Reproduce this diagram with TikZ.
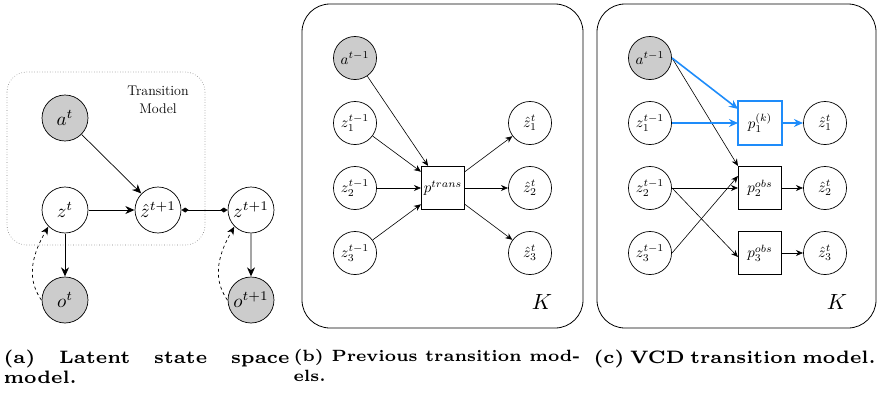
\documentclass[tikz,border=0pt]{standalone}
\usetikzlibrary{arrows.meta}
\definecolor{vcdblue}{RGB}{30,140,250}
\begin{document}
\begin{tikzpicture}[x=1pt,y=-1pt,
  varA/.style={circle,draw,line width=0.7pt,scale=1.9,minimum size=24.2pt,inner sep=0pt,font=\fontsize{10}{10}\selectfont},
  obsA/.style={varA,fill=gray!40},
  varB/.style={circle,draw,line width=0.7pt,scale=1.5,minimum size=28.7pt,inner sep=0pt,font=\fontsize{10}{10}\selectfont},
  obsB/.style={varB,fill=gray!40},
  boxB/.style={draw,line width=0.7pt,scale=1.5,minimum size=28.7pt,inner sep=0pt,font=\fontsize{10}{10}\selectfont},
  arrA/.style={-{Stealth[length=9pt,width=8pt]},line width=0.7pt},
  arrB/.style={-{Stealth[length=7pt,width=6pt]},line width=0.6pt},
  arrBlue/.style={-{Stealth[length=9pt,width=8pt]},line width=1.6pt,draw=vcdblue},
  panel/.style={draw,line width=0.8pt,rounded corners=28pt},
  bigK/.style={scale=2.2,font=\fontsize{10}{10}\selectfont},
  captext/.style={anchor=north west,inner sep=0pt,font=\fontsize{6}{6.67}\selectfont\bfseries}
]
\useasboundingbox (0,0) rectangle (877,392);

% ---------- panel (a) ----------
\draw[dotted,gray,line width=0.6pt,rounded corners=20pt] (7,72) rectangle (205,245);
\node[align=center,font=\fontsize{14}{18}\selectfont] (tm) at (158,100) {Transition\\Model};
\node[obsA] (at) at (65,118) {$a^t$};
\node[varA] (zt) at (65,210) {$z^t$};
\node[varA] (zh) at (158,210) {$\hat z^{t+1}$};
\node[varA] (zn) at (251,210) {$z^{t+1}$};
\node[obsA] (ot) at (65,300) {$o^t$};
\node[obsA] (on) at (251,300) {$o^{t+1}$};
\draw[arrA] (at) -- (zh);
\draw[arrA] (zt) -- (zh);
\draw[arrA] (zt) -- (ot);
\draw[arrA] (zn) -- (on);
\draw[{Diamond[length=7pt,width=5pt]}-{Diamond[length=7pt,width=5pt]},line width=0.7pt] (zh) -- (zn);
\draw[dashed,line width=0.7pt,-{Stealth[length=8pt,width=7pt]}] (ot.west) to[out=125,in=240] (zt.south west);
\draw[dashed,line width=0.7pt,-{Stealth[length=8pt,width=7pt]}] (on.west) to[out=125,in=240] (zn.south west);

% ---------- panel (b) ----------
\draw[panel] (302,4) rectangle (583,328);
\node[obsB] (ab) at (355,58) {$a^{t-1}$};
\node[varB] (z1b) at (355,123) {$z_1^{t-1}$};
\node[varB] (z2b) at (355,188) {$z_2^{t-1}$};
\node[varB] (z3b) at (355,253) {$z_3^{t-1}$};
\node[boxB] (pt) at (443,188) {$p^{trans}$};
\node[varB] (h1b) at (530,123) {$\hat z_1^t$};
\node[varB] (h2b) at (530,188) {$\hat z_2^t$};
\node[varB] (h3b) at (530,253) {$\hat z_3^t$};
\node[bigK] (kb) at (542,302) {$K$};
\draw[arrB] (ab) -- (pt);
\draw[arrB] (z1b) -- (pt);
\draw[arrB] (z2b) -- (pt);
\draw[arrB] (z3b) -- (pt);
\draw[arrB] (pt) -- (h1b);
\draw[arrB] (pt) -- (h2b);
\draw[arrB] (pt) -- (h3b);

% ---------- panel (c) ----------
\draw[panel] (597,4) rectangle (876,328);
\node[obsB] (ac) at (650,58) {$a^{t-1}$};
\node[varB] (z1c) at (650,123) {$z_1^{t-1}$};
\node[varB] (z2c) at (650,188) {$z_2^{t-1}$};
\node[varB] (z3c) at (650,253) {$z_3^{t-1}$};
\node[boxB,draw=none] (p1) at (760,123) {$p_1^{(k)}$};
\draw[vcdblue,line width=1.8pt] (p1.north west) rectangle (p1.south east);
\node[boxB] (p2) at (760,188) {$p_2^{obs}$};
\node[boxB] (p3) at (760,253) {$p_3^{obs}$};
\node[varB] (h1c) at (825,123) {$\hat z_1^t$};
\node[varB] (h2c) at (825,188) {$\hat z_2^t$};
\node[varB] (h3c) at (825,253) {$\hat z_3^t$};
\node[bigK] (kc) at (837,302) {$K$};
\draw[arrB] (ac.east) -- (p2.north west);
\draw[arrBlue] (ac.east) -- ([yshift=-8pt]p1.north west);
\draw[arrBlue] (z1c) -- (p1);
\draw[arrBlue] (p1) -- (h1c);
\draw[arrB] (z2c) -- (p2);
\draw[arrB] (z2c.east) -- ([yshift=-4pt]p3.west);
\draw[arrB] (z3c.east) -- ([yshift=12pt]p2.west);
\draw[arrB] (p2) -- (h2c);
\draw[arrB] (p3) -- (h3c);

% ---------- captions ----------
\node[captext,scale=3.0,align=justify,text width=95.3pt] (ca) at (3,349) {(a) Latent state space\linebreak model.};
\node[captext,scale=2.72,align=left] (cb) at (293,349) {(b) Previous transition mod-\\[0.65pt]els.};
\node[captext,scale=3.0,align=justify,text width=94pt] (cc) at (593,349) {(c) VCD transition model.};
\end{tikzpicture}
\end{document}
